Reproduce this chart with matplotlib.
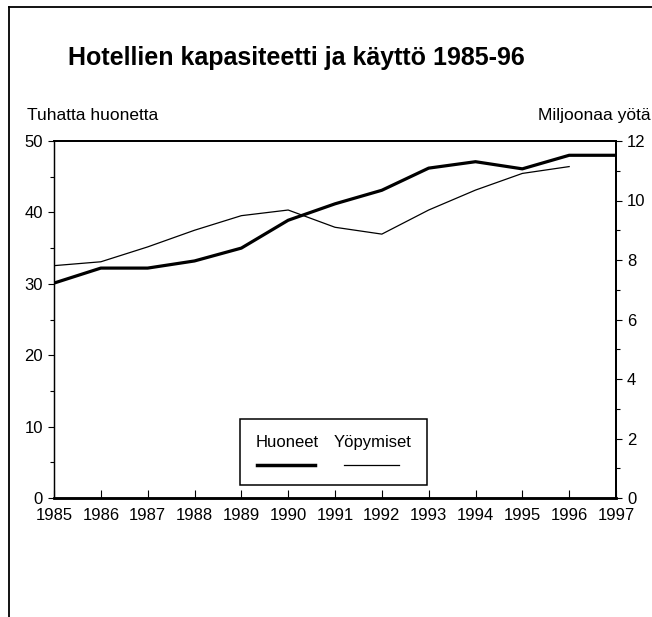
import matplotlib
matplotlib.use("Agg")
import matplotlib.pyplot as plt
from matplotlib.lines import Line2D
from matplotlib.patches import Rectangle

plt.rcParams['font.family'] = ['Liberation Sans', 'DejaVu Sans']

# data
years_rooms = [1985, 1986, 1987, 1988, 1989, 1990, 1991, 1992, 1993, 1994, 1995, 1996, 1997]
rooms = [30.1, 32.2, 32.2, 33.2, 35.0, 38.9, 41.2, 43.1, 46.2, 47.1, 46.1, 48.0, 48.0]  # tuhatta huonetta

years_nights = [1985, 1986, 1987, 1988, 1989, 1990, 1991, 1992, 1993, 1994, 1995, 1996]
nights = [7.81, 7.94, 8.44, 9.0, 9.49, 9.68, 9.1, 8.87, 9.68, 10.35, 10.91, 11.14]  # miljoonaa yota

xticks = list(range(1985, 1998))
left_ticks = [0, 10, 20, 30, 40, 50]
right_ticks = [0, 2, 4, 6, 8, 10, 12]

fig = plt.figure(figsize=(6.52, 6.17), dpi=100)
ax = fig.add_axes([54/652, 1 - 498/617, 562/652, 357/617])
ax2 = ax.twinx()

ax.plot(years_rooms, rooms, color='black', linewidth=2.3, solid_joinstyle='round')
ax2.plot(years_nights, nights, color='black', linewidth=0.9)

ax.set_xlim(1985, 1997)
ax.set_ylim(0, 50)
ax2.set_ylim(0, 12)

ax.set_xticks(xticks)
ax.set_xticklabels([str(y) for y in xticks], fontsize=12)
ax.set_yticks(left_ticks)
ax.set_yticks(range(5, 50, 10), minor=True)
ax.set_yticklabels([str(v) for v in left_ticks], fontsize=12)
ax2.set_yticks(right_ticks)
ax2.set_yticks(range(1, 12, 2), minor=True)
ax2.set_yticklabels([str(v) for v in right_ticks], fontsize=12)

ax.tick_params(axis='x', direction='in', length=6, width=0.8, pad=7)
ax.tick_params(axis='y', which='major', direction='out', length=4, width=0.8, pad=4)
ax.tick_params(axis='y', which='minor', direction='out', length=3, width=0.8)
ax2.tick_params(axis='y', which='major', direction='out', length=4, width=0.8, pad=4)
ax2.tick_params(axis='y', which='minor', direction='out', length=3, width=0.8)

for a in (ax, ax2):
    a.spines['bottom'].set_linewidth(1.8)
    a.spines['top'].set_linewidth(1.3)
    a.spines['left'].set_linewidth(0.9)
    a.spines['right'].set_linewidth(1.4)

# legend box drawn by hand: labels above the line samples
ax.add_patch(Rectangle((0.331, 0.0364), 0.333, 0.185, transform=ax.transAxes,
                       facecolor='white', edgecolor='black', linewidth=1.1, zorder=5))
ax.text(0.4146, 0.1429, 'Huoneet', transform=ax.transAxes, ha='center', va='baseline',
        fontsize=12, zorder=6)
ax.text(0.5676, 0.1429, 'Yöpymiset', transform=ax.transAxes, ha='center', va='baseline',
        fontsize=12, zorder=6)
ax.add_line(Line2D([0.361, 0.464], [0.0924, 0.0924], transform=ax.transAxes,
                   color='black', linewidth=2.5, zorder=6))
ax.add_line(Line2D([0.516, 0.614], [0.0924, 0.0924], transform=ax.transAxes,
                   color='black', linewidth=0.9, zorder=6))

fig.text(68/652, 1 - 65/617, 'Hotellien kapasiteetti ja käyttö 1985-96',
         fontsize=18, fontweight='bold', ha='left', va='baseline')
fig.text(27/652, 1 - 120/617, 'Tuhatta huonetta', fontsize=12.5, ha='left', va='baseline')
fig.text(651/652, 1 - 120/617, 'Miljoonaa yötä', fontsize=12.5, ha='right', va='baseline')

# page frame: top and left edges
fig.add_artist(Line2D([9/652, 1], [1 - 7/617, 1 - 7/617], transform=fig.transFigure,
                      color='black', linewidth=1.3))
fig.add_artist(Line2D([9/652, 9/652], [0, 1 - 7/617], transform=fig.transFigure,
                      color='black', linewidth=1.3))

fig.savefig('out.png', dpi=100)
